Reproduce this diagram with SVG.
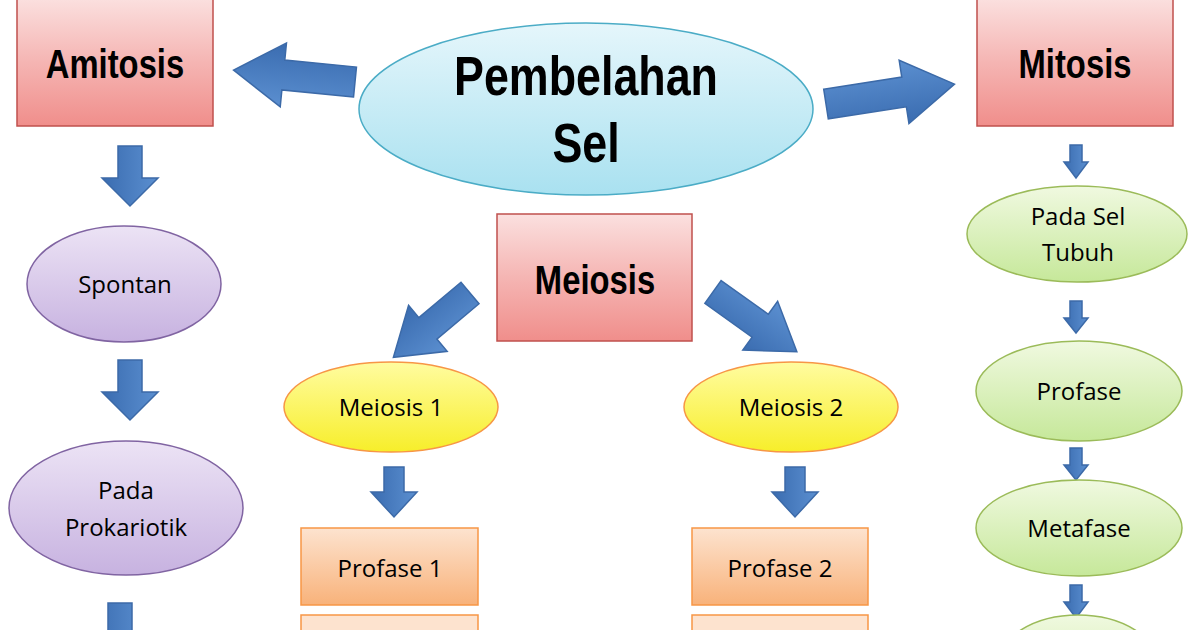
<svg xmlns="http://www.w3.org/2000/svg" width="1200" height="630" viewBox="0 0 1200 630">
<defs>
<linearGradient id="pink" x1="0" y1="0" x2="0" y2="1"><stop offset="0" stop-color="#fbe0df"/><stop offset="0.5" stop-color="#f5b5b3"/><stop offset="1" stop-color="#f08e8b"/></linearGradient>
<linearGradient id="cyan" x1="0" y1="0" x2="0" y2="1"><stop offset="0" stop-color="#e5f6fb"/><stop offset="1" stop-color="#a9e1f0"/></linearGradient>
<linearGradient id="purple" x1="0" y1="0" x2="0" y2="1"><stop offset="0" stop-color="#ece3f5"/><stop offset="1" stop-color="#c7b2e0"/></linearGradient>
<linearGradient id="yellow" x1="0" y1="0" x2="0" y2="1"><stop offset="0" stop-color="#fffca0"/><stop offset="1" stop-color="#f7ee2a"/></linearGradient>
<linearGradient id="green" x1="0" y1="0" x2="0" y2="1"><stop offset="0" stop-color="#f0f9e0"/><stop offset="1" stop-color="#c6e89a"/></linearGradient>
<linearGradient id="orange" x1="0" y1="0" x2="0" y2="1"><stop offset="0" stop-color="#fde3cf"/><stop offset="1" stop-color="#f8b27a"/></linearGradient>
<linearGradient id="blue" x1="0" y1="0" x2="0" y2="1"><stop offset="0" stop-color="#5b8fd0"/><stop offset="1" stop-color="#3a6cb0"/></linearGradient>
</defs>
<style>
.h{font-family:"Liberation Sans",Arial,sans-serif;font-weight:bold;font-size:40px;fill:#000;text-anchor:middle}
.t{font-family:"Open Sans","Liberation Sans",sans-serif;font-size:24px;fill:#000;text-anchor:middle}
.pk{fill:url(#pink);stroke:#c0504d;stroke-width:1.5}
.ar{fill:url(#blue);stroke:#3c6aa8;stroke-width:1.5}
</style>
<rect width="1200" height="630" fill="#fff"/>
<g id="connectors">
<polygon class="ar" points="0,-15 72,-15 72,-32 122,0 72,32 72,15 0,15" transform="translate(355,82) rotate(185.6)"/>
<polygon class="ar" points="0,-15 79,-15 79,-32 130,0 79,32 79,15 0,15" transform="translate(826,104) rotate(-8.8)"/>
<polygon class="ar" points="0,-14 55,-14 55,-30 100,0 55,30 55,14 0,14" transform="translate(470,293) rotate(140)"/>
<polygon class="ar" points="0,-14 58,-14 58,-30 103,0 58,30 58,14 0,14" transform="translate(713,292) rotate(35.5)"/>
<polygon class="ar" points="0,-12 32,-12 32,-28 60,0 32,28 32,12 0,12" transform="translate(130,146) rotate(90)"/>
<polygon class="ar" points="0,-12 32,-12 32,-28 60,0 32,28 32,12 0,12" transform="translate(130,360) rotate(90)"/>
<polygon class="ar" points="0,-12 32,-12 32,-28 60,0 32,28 32,12 0,12" transform="translate(120,603) rotate(90)"/>
<polygon class="ar" points="0,-10 25,-10 25,-23 50,0 25,23 25,10 0,10" transform="translate(394,467) rotate(90)"/>
<polygon class="ar" points="0,-10 25,-10 25,-23 50,0 25,23 25,10 0,10" transform="translate(795,467) rotate(90)"/>
<polygon class="ar" points="0,-6 17,-6 17,-12 33,0 17,12 17,6 0,6" transform="translate(1076,145) rotate(90)"/>
<polygon class="ar" points="0,-6 17,-6 17,-12 32,0 17,12 17,6 0,6" transform="translate(1076,301) rotate(90)"/>
<polygon class="ar" points="0,-6 17,-6 17,-12 32,0 17,12 17,6 0,6" transform="translate(1076,448) rotate(90)"/>
<polygon class="ar" points="0,-6 17,-6 17,-12 33,0 17,12 17,6 0,6" transform="translate(1076,585) rotate(90)"/>
</g>
<g id="amitosis"><rect class="pk" x="17" y="-2" width="196" height="128"/><text class="h" x="115" y="78" transform="translate(115 0) scale(0.82 1) translate(-115 0)">Amitosis</text></g>
<g id="pembelahan"><ellipse cx="586" cy="109" rx="227" ry="86" fill="url(#cyan)" stroke="#4bacc6" stroke-width="1.5"/><text class="h" style="font-size:56px" transform="translate(586 0) scale(0.8 1)"><tspan x="0" y="95">Pembelahan</tspan><tspan x="0" y="162">Sel</tspan></text></g>
<g id="mitosis"><rect class="pk" x="977" y="-2" width="196" height="128"/><text class="h" transform="translate(1075 0) scale(0.82 1)" x="0" y="78">Mitosis</text></g>
<g id="meiosis"><rect class="pk" x="497" y="214" width="195" height="127"/><text class="h" transform="translate(595 0) scale(0.82 1)" x="0" y="294">Meiosis</text></g>
<g id="spontan"><ellipse cx="124" cy="284" rx="97" ry="58" fill="url(#purple)" stroke="#8064a2" stroke-width="1.5"/><text class="t" x="125" y="293">Spontan</text></g>
<g id="prokariotik"><ellipse cx="126" cy="508" rx="117" ry="67" fill="url(#purple)" stroke="#8064a2" stroke-width="1.5"/><text class="t"><tspan x="126" y="499">Pada</tspan><tspan x="126" y="536">Prokariotik</tspan></text></g>
<g id="meiosis1"><ellipse cx="391" cy="407" rx="107" ry="45" fill="url(#yellow)" stroke="#f79646" stroke-width="1.5"/><text class="t" x="391" y="416">Meiosis 1</text></g>
<g id="meiosis2"><ellipse cx="791" cy="407" rx="107" ry="45" fill="url(#yellow)" stroke="#f79646" stroke-width="1.5"/><text class="t" x="791" y="416">Meiosis 2</text></g>
<g id="profase1"><rect x="301" y="528" width="177" height="77" fill="url(#orange)" stroke="#f79646" stroke-width="1.5"/><text class="t" x="390" y="577">Profase 1</text></g>
<g id="profase2"><rect x="692" y="528" width="176" height="77" fill="url(#orange)" stroke="#f79646" stroke-width="1.5"/><text class="t" x="780" y="577">Profase 2</text></g>
<g id="next1"><rect x="301" y="615" width="177" height="30" fill="#fde3cf" stroke="#f79646" stroke-width="1.5"/></g>
<g id="next2"><rect x="692" y="615" width="176" height="30" fill="#fde3cf" stroke="#f79646" stroke-width="1.5"/></g>
<g id="selTubuh"><ellipse cx="1077" cy="234" rx="110" ry="48" fill="url(#green)" stroke="#9bbb59" stroke-width="1.5"/><text class="t"><tspan x="1078" y="225">Pada Sel</tspan><tspan x="1078" y="261">Tubuh</tspan></text></g>
<g id="profase"><ellipse cx="1079" cy="391" rx="103" ry="50" fill="url(#green)" stroke="#9bbb59" stroke-width="1.5"/><text class="t" x="1079" y="400">Profase</text></g>
<g id="metafase"><ellipse cx="1079" cy="528" rx="103" ry="48" fill="url(#green)" stroke="#9bbb59" stroke-width="1.5"/><text class="t" x="1079" y="537">Metafase</text></g>
<g id="next3"><ellipse cx="1078" cy="665" rx="80" ry="50" fill="url(#green)" stroke="#9bbb59" stroke-width="1.5"/></g>
</svg>
